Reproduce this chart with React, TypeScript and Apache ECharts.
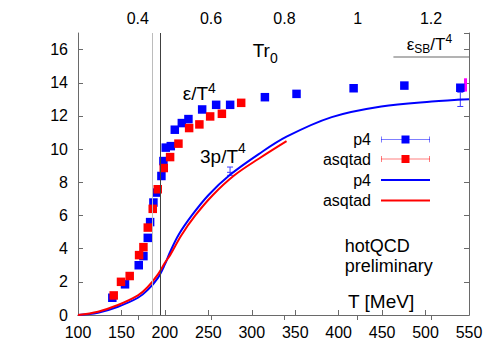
import React, { useEffect, useRef } from 'react';
import * as echarts from 'echarts';

const FONT = '"Liberation Sans", Arial, Helvetica, sans-serif';

// T [MeV] vs epsilon/T^4 (points)
const p4Energy: [number, number][] = [
  [139.5, 1.04], [154.1, 1.85], [169.9, 3.0], [175.3, 3.55], [180.3, 4.65], [183, 5.6],
  [186.8, 6.78], [190.6, 7.38], [196, 8.38], [198.3, 9.28], [201, 10.09], [206.8, 10.18],
  [211.4, 11.17], [219.5, 11.57], [227.1, 11.81], [242.9, 12.39], [259, 12.67], [275.1, 12.67],
  [315.1, 13.13], [351.5, 13.33], [417.2, 13.67], [475.6, 13.83], [540, 13.7],
];
const asqtadEnergy: [number, number][] = [
  [141.1, 1.18], [149.5, 2.0], [159.5, 2.35], [170.3, 3.61], [175.3, 4.09], [180.3, 5.27],
  [186, 6.4], [191.8, 7.58], [198.7, 8.86], [206, 9.52], [215.6, 10.33], [227.9, 11.27],
  [239.7, 11.49], [252.1, 11.97], [265.6, 12.13], [287.8, 12.79],
];
// T [MeV] vs 3p/T^4 (curves)
const p4Pressure: [number, number][] = [
  [100, 0], [123, 0.14], [146, 0.5], [169, 1.04], [180, 1.5], [192, 2.24], [200, 3.05],
  [206, 3.8], [216, 4.85], [231, 6.0], [250, 7.22], [275, 8.45], [308, 9.7], [340, 10.75],
  [392, 11.93], [449, 12.57], [507, 12.87], [550, 13.01],
];
const asqtadPressure: [number, number][] = [
  [100, 0], [123, 0.2], [146, 0.6], [169, 1.18], [180, 1.67], [192, 2.45], [200, 3.15],
  [206, 3.61], [219, 4.81], [235, 6.0], [255, 7.22], [280, 8.42], [308, 9.42], [340, 10.48],
];
// [T, low, high, centre]
const p4PressureErrors: [number, number, number, number][] = [
  [275, 8.42, 8.92, 8.6],
  [540, 12.57, 13.43, 13.0],
];
const asqtadHighT: [number, number, number][] = [[546, 13.47, 14.27]];
const transitionT = [185.2, 195.2];
const sbLimit = 15.58;
const sbStartT = 463;

const bottomTicks = { min: 100, max: 550, step: 50 };
const yTicks = { min: 0, max: 17, step: 2 };
const topTickLabels = [0.4, 0.6, 0.8, 1, 1.2];
const TR0_PER_MEV = 0.00237; // r0 / (hbar c)

const errRender = (color: string, cap: number, width: number) => (params: any, api: any) => {
  const t = api.value(0);
  const lo = api.coord([t, api.value(1)]);
  const hi = api.coord([t, api.value(2)]);
  const style = { stroke: color, lineWidth: width };
  const children: any[] = [
    { type: 'line', shape: { x1: lo[0], y1: lo[1], x2: hi[0], y2: hi[1] }, style },
  ];
  if (cap > 0) {
    children.push({ type: 'line', shape: { x1: lo[0] - cap, y1: lo[1], x2: lo[0] + cap, y2: lo[1] }, style });
    children.push({ type: 'line', shape: { x1: hi[0] - cap, y1: hi[1], x2: hi[0] + cap, y2: hi[1] }, style });
    const c = api.value(3);
    if (c !== undefined && !isNaN(c)) {
      const cc = api.coord([t, c]);
      children.push({ type: 'line', shape: { x1: cc[0] - cap, y1: cc[1], x2: cc[0] + cap, y2: cc[1] }, style });
    }
  }
  return { type: 'group', children };
};

const tok = (fontSize: number, verticalAlign: string, lineHeight?: number) => ({
  fontSize,
  fontFamily: FONT,
  color: '#000',
  verticalAlign,
  ...(lineHeight ? { lineHeight } : {}),
});

const errIcon =
  'path://M0,1L0.5,1L0.5,7L0,7Z M0.5,3.75L20.5,3.75L20.5,4.25L0.5,4.25Z M20.5,0L28.5,0L28.5,8L20.5,8Z M28.5,3.75L48.5,3.75L48.5,4.25L28.5,4.25Z M48.5,1L49,1L49,7L48.5,7Z';

const legendAt = (name: string, top: number, icon: string, h: number) => ({
  show: true,
  data: [{ name, icon }],
  right: 68,
  top,
  orient: 'vertical',
  align: 'right',
  padding: 0,
  itemWidth: 49,
  itemHeight: h,
  selectedMode: false,
  itemStyle: { borderWidth: 0 },
  formatter: (n: string) => n.trim(),
  textStyle: { fontSize: 16, fontFamily: FONT, color: '#000', padding: [0, 5, 0, 0] },
});

const plainText = (text: string, x: number, y: number, size: number) => ({
  type: 'text',
  x,
  y,
  style: { text, fontSize: size, fontFamily: FONT, fill: '#000', textVerticalAlign: 'middle' },
});

export default function App() {
  const ref = useRef<HTMLDivElement>(null);
  useEffect(() => {
    if (!ref.current) return;
    const chart = echarts.init(ref.current, null, { renderer: 'svg' });
    const axisColor = '#6a6a6a';
    const labelStyle = { fontSize: 16, fontFamily: FONT, color: '#000' };
    chart.setOption({
      animation: false,
      grid: { left: 78, right: 29, top: 33, bottom: 34, containLabel: false },
      xAxis: [
        {
          type: 'value',
          position: 'bottom',
          min: bottomTicks.min,
          max: bottomTicks.max,
          interval: bottomTicks.step,
          axisLine: { show: true, lineStyle: { color: axisColor, width: 1 } },
          axisTick: { show: true, inside: true, length: 5, lineStyle: { color: axisColor } },
          axisLabel: { ...labelStyle, margin: 9 },
          splitLine: { show: false },
        },
        {
          type: 'value',
          position: 'top',
          min: bottomTicks.min * TR0_PER_MEV,
          max: bottomTicks.max * TR0_PER_MEV,
          axisLine: { show: true, lineStyle: { color: axisColor, width: 1 } },
          axisTick: { show: true, inside: true, length: 5, lineStyle: { color: axisColor }, customValues: topTickLabels },
          axisLabel: { ...labelStyle, margin: 7, customValues: topTickLabels, formatter: (v: number) => String(v) },
          splitLine: { show: false },
        },
      ],
      yAxis: [
        {
          type: 'value',
          position: 'left',
          min: yTicks.min,
          max: yTicks.max,
          interval: yTicks.step,
          axisLine: { show: true, lineStyle: { color: axisColor, width: 1 } },
          axisTick: { show: true, inside: true, length: 5, lineStyle: { color: axisColor } },
          axisLabel: { ...labelStyle, margin: 10, showMaxLabel: false },
          splitLine: { show: false },
        },
        {
          type: 'value',
          position: 'right',
          min: yTicks.min,
          max: yTicks.max,
          interval: yTicks.step,
          axisLine: { show: true, lineStyle: { color: axisColor, width: 1 } },
          axisTick: { show: true, inside: true, length: 5, lineStyle: { color: axisColor } },
          axisLabel: { show: false },
          splitLine: { show: false },
        },
      ],
      legend: [
        legendAt('p4', 131.5, errIcon, 8),
        legendAt('asqtad', 151, errIcon, 8),
        legendAt('p4 ', 172, 'rect', 2),
        legendAt('asqtad ', 192.5, 'rect', 2),
      ],
      series: [
        {
          type: 'line',
          name: 'guides',
          data: [],
          silent: true,
          markLine: {
            silent: true,
            symbol: ['none', 'none'],
            label: { show: false },
            lineStyle: { type: 'solid', width: 1, color: '#999' },
            data: [
              { xAxis: transitionT[0], lineStyle: { color: '#bcbcbc', width: 1, type: 'solid' } },
              { xAxis: transitionT[1], lineStyle: { color: '#404040', width: 1, type: 'solid' } },
              [
                { coord: [sbStartT, sbLimit], lineStyle: { color: '#9a9a9a', width: 1.5, type: 'solid' } },
                { coord: [bottomTicks.max, sbLimit] },
              ],
            ],
          },
        },
        {
          type: 'line',
          name: 'p4 ',
          data: p4Pressure,
          smooth: 0.35,
          showSymbol: false,
          symbol: 'none',
          lineStyle: { color: '#0000ff', width: 2 },
          itemStyle: { color: '#0000ff' },
        },
        {
          type: 'line',
          name: 'asqtad ',
          data: asqtadPressure,
          smooth: 0.35,
          showSymbol: false,
          symbol: 'none',
          lineStyle: { color: '#ff0000', width: 2 },
          itemStyle: { color: '#ff0000' },
        },
        {
          type: 'custom',
          name: 'p4 errors',
          data: p4PressureErrors,
          encode: { x: 0, y: [1, 2] },
          renderItem: errRender('#3a3aff', 3, 1),
          silent: true,
        },
        {
          type: 'custom',
          name: 'asqtad high T',
          data: asqtadHighT,
          encode: { x: 0, y: [1, 2] },
          renderItem: errRender('#ff00ff', 0, 3),
          silent: true,
        },
        {
          type: 'scatter',
          name: 'p4',
          data: p4Energy,
          symbol: 'rect',
          symbolSize: 8.5,
          itemStyle: { color: '#0000ff', opacity: 1 },
        },
        {
          type: 'scatter',
          name: 'asqtad',
          data: asqtadEnergy,
          symbol: 'rect',
          symbolSize: 8.5,
          itemStyle: { color: '#ff0000', opacity: 1 },
        },
      ],
      graphic: [
        {
          type: 'text', x: 182.7, y: 80.5,
          style: { text: '{m|ε/T}{s|4}', textVerticalAlign: 'top', rich: { m: tok(19, 'middle', 25.8), s: tok(14, 'top') } },
        },
        {
          type: 'text', x: 200, y: 140.5,
          style: { text: '{m|3p/T}{s|4}', textVerticalAlign: 'top', rich: { m: tok(19, 'middle', 32.4), s: tok(14, 'top') } },
        },
        {
          type: 'text', x: 252.7, y: 36.1,
          style: { text: '{m|Tr}{b|0}', textVerticalAlign: 'top', rich: { m: tok(19, 'middle', 29.2), b: tok(14, 'bottom') } },
        },
        {
          type: 'text', x: 406.7, y: 32.75,
          style: { text: '{m|ε}{b|SB}{m|/T}{s|4}', textVerticalAlign: 'top', rich: { m: tok(17, 'middle', 22.5), b: tok(12, 'bottom'), s: tok(12, 'top') } },
        },
        plainText('hotQCD', 344.7, 246.4, 18),
        plainText('preliminary', 344.7, 265.6, 18),
        plainText('T [MeV]', 348, 301.5, 19),
      ],
    });
    return () => chart.dispose();
  }, []);
  return <div ref={ref} style={{ position: 'absolute', left: 0, top: 0, width: 498, height: 349 }} />;
}
